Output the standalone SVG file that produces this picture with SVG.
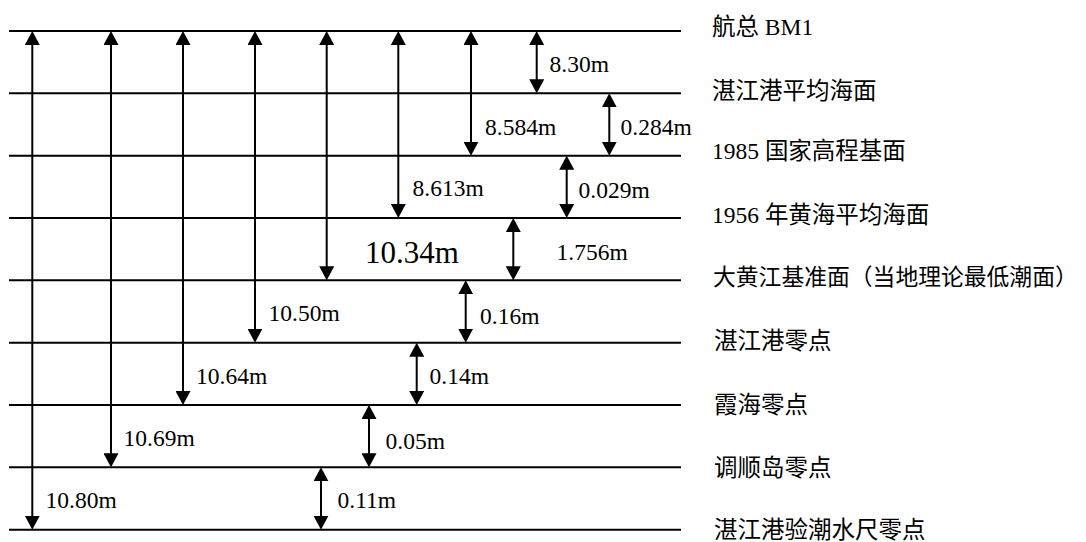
<svg xmlns="http://www.w3.org/2000/svg" width="1086" height="542" viewBox="0 0 1086 542">
<style>
.lvl{stroke:#000;stroke-width:2;fill:none}
.arr{stroke:#000;stroke-width:2;fill:none;marker-start:url(#ah);marker-end:url(#ah)}
text{font-family:"Liberation Serif","Times New Roman","Noto Sans CJK SC",serif;fill:#000}
.m{font-size:23.5px}
.big{font-size:31px}
.lb{font-size:23.5px}
.lbw{font-size:22.8px}
</style>
<defs>
<marker id="ah" markerUnits="userSpaceOnUse" viewBox="0 0 14 15" markerWidth="14" markerHeight="15" refX="2" refY="7.5" orient="auto-start-reverse">
<path d="M0,0 L14,7.5 L0,15 z" fill="#000"/>
</marker>
</defs>
<rect width="1086" height="542" fill="#fff"/>
<g id="levels">
<line class="lvl" x1="9" y1="31" x2="681" y2="31"/>
<line class="lvl" x1="9" y1="93.3" x2="681" y2="93.3"/>
<line class="lvl" x1="9" y1="155.7" x2="681" y2="155.7"/>
<line class="lvl" x1="9" y1="218" x2="681" y2="218"/>
<line class="lvl" x1="9" y1="280.3" x2="681" y2="280.3"/>
<line class="lvl" x1="9" y1="342.7" x2="681" y2="342.7"/>
<line class="lvl" x1="9" y1="405" x2="681" y2="405"/>
<line class="lvl" x1="9" y1="467.3" x2="681" y2="467.3"/>
<line class="lvl" x1="9" y1="529.7" x2="681" y2="529.7"/>
</g>
<g id="connectors">
<line class="arr" x1="32.3" y1="43" x2="32.3" y2="517.7"/>
<line class="arr" x1="111" y1="43" x2="111" y2="455.3"/>
<line class="arr" x1="183" y1="43" x2="183" y2="393"/>
<line class="arr" x1="255" y1="43" x2="255" y2="330.7"/>
<line class="arr" x1="326.7" y1="43" x2="326.7" y2="268.3"/>
<line class="arr" x1="398.3" y1="43" x2="398.3" y2="206"/>
<line class="arr" x1="471" y1="43" x2="471" y2="143.7"/>
<line class="arr" x1="536.7" y1="43" x2="536.7" y2="81.3"/>
<line class="arr" x1="609.3" y1="105.3" x2="609.3" y2="143.7"/>
<line class="arr" x1="566.7" y1="167.7" x2="566.7" y2="206"/>
<line class="arr" x1="513.3" y1="230" x2="513.3" y2="268.3"/>
<line class="arr" x1="465.7" y1="292.3" x2="465.7" y2="330.7"/>
<line class="arr" x1="416.7" y1="354.7" x2="416.7" y2="393"/>
<line class="arr" x1="369" y1="417" x2="369" y2="455.3"/>
<line class="arr" x1="321" y1="479.3" x2="321" y2="517.7"/>
</g>
<g id="values">
<text class="m" x="549.5" y="72">8.30m</text>
<text class="m" x="485" y="135">8.584m</text>
<text class="m" x="620.5" y="135">0.284m</text>
<text class="m" x="412.5" y="196">8.613m</text>
<text class="m" x="578.5" y="198">0.029m</text>
<text class="big" x="365" y="263">10.34m</text>
<text class="m" x="556.5" y="260">1.756m</text>
<text class="m" x="268.5" y="321">10.50m</text>
<text class="m" x="480" y="324">0.16m</text>
<text class="m" x="196" y="384">10.64m</text>
<text class="m" x="429.5" y="384">0.14m</text>
<text class="m" x="123.5" y="446">10.69m</text>
<text class="m" x="385.5" y="449">0.05m</text>
<text class="m" x="45.5" y="508">10.80m</text>
<text class="m" x="337.5" y="508">0.11m</text>
</g>
<g id="labels">
<text class="lb" x="712" y="35">航总 BM1</text>
<text class="lb" x="712" y="99">湛江港平均海面</text>
<text class="lb" x="712" y="158.5">1985 国家高程基面</text>
<text class="lb" x="712" y="223">1956 年黄海平均海面</text>
<text class="lbw" x="713" y="284.5">大黄江基准面（当地理论最低潮面）</text>
<text class="lb" x="714" y="349">湛江港零点</text>
<text class="lb" x="714" y="412.5">霞海零点</text>
<text class="lb" x="714" y="475.5">调顺岛零点</text>
<text class="lb" x="714" y="538">湛江港验潮水尺零点</text>
</g>
</svg>
